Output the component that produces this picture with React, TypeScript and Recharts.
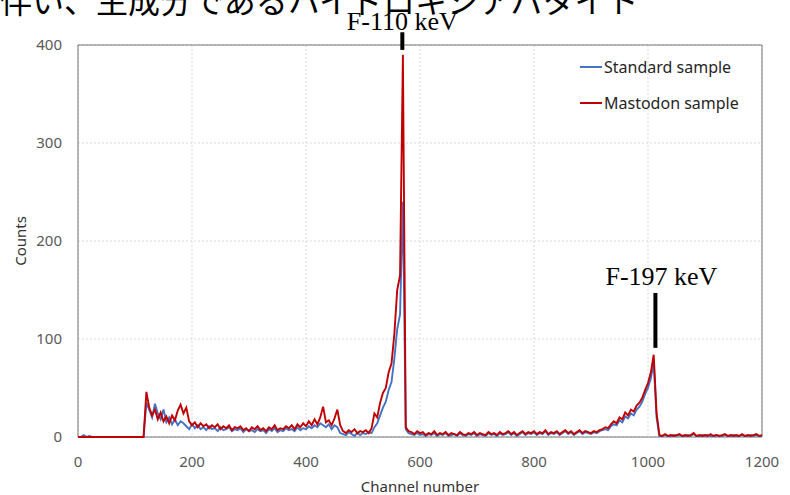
import {
  LineChart,
  Line,
  XAxis,
  YAxis,
  CartesianGrid,
  ReferenceArea,
  ReferenceLine,
} from "recharts";

// counts every 5 channels, 0..1200 (one row = 100 channels)
const CHANNEL_STEP = 5;

const standardCounts = [
  0, 0, 2, 0, 1, 0, 0, 0, 0, 0, 0, 0, 0, 0, 0, 0, 0, 0, 0, 0,
  0, 0, 0, 0, 35, 28, 20, 34, 24, 18, 28, 15, 20, 13, 18, 12, 16, 14, 11, 8,
  13, 9, 12, 8, 10, 7, 11, 8, 9, 6, 10, 7, 8, 10, 6, 8, 7, 9, 5, 8,
  6, 7, 5, 8, 6, 7, 4, 8, 6, 9, 5, 7, 6, 9, 7, 8, 6, 10, 7, 9,
  8, 11, 9, 12, 10, 14, 12, 10, 13, 8, 12, 10, 4, 3, 2, 5, 3, 1, 4, 2,
  4, 3, 5, 4, 10, 14, 22, 30, 36, 48, 56, 80, 110, 125, 240, 8, 4, 3, 2, 4,
  2, 3, 1, 3, 2, 4, 1, 3, 2, 4, 1, 2, 3, 1, 4, 2, 1, 3, 2, 4,
  1, 3, 2, 1, 4, 2, 3, 1, 4, 2, 3, 5, 2, 4, 1, 3, 5, 2, 4, 3,
  5, 2, 4, 3, 6, 2, 4, 3, 5, 2, 4, 6, 3, 5, 2, 4, 6, 3, 5, 4,
  3, 5, 4, 6, 7, 8, 7, 11, 13, 12, 17, 15, 21, 19, 24, 22, 28, 31, 36, 44,
  50, 60, 76, 20, 1, 1, 2, 1, 1, 2, 1, 2, 1, 1, 2, 1, 3, 1, 1, 2,
  1, 2, 1, 1, 2, 1, 1, 2, 1, 1, 2, 1, 1, 2, 1, 1, 2, 1, 2, 1,
  1,
];

const mastodonCounts = [
  0, 0, 0, 0, 0, 0, 0, 0, 0, 0, 0, 0, 0, 0, 0, 0, 0, 0, 0, 0,
  0, 0, 0, 0, 46, 30, 22, 28, 18, 25, 16, 21, 14, 22, 17, 27, 33, 24, 30, 16,
  12, 15, 10, 14, 11, 13, 9, 12, 10, 13, 8, 11, 9, 12, 7, 10, 9, 11, 7, 9,
  6, 10, 8, 11, 7, 9, 6, 10, 8, 12, 7, 9, 8, 11, 9, 12, 8, 13, 10, 14,
  11, 16, 12, 18, 13, 20, 31, 15, 17, 12, 19, 28, 12, 6, 4, 7, 5, 8, 4, 6,
  5, 7, 4, 9, 24, 20, 35, 45, 50, 66, 75, 105, 150, 165, 390, 10, 6, 5, 3, 6,
  4, 5, 2, 4, 3, 6, 2, 4, 3, 5, 2, 4, 3, 2, 5, 3, 2, 4, 3, 5,
  2, 4, 3, 2, 5, 3, 4, 2, 5, 3, 4, 6, 3, 5, 2, 4, 6, 3, 5, 4,
  6, 3, 5, 4, 7, 3, 5, 4, 6, 3, 5, 7, 4, 6, 3, 5, 7, 4, 6, 5,
  4, 6, 5, 7, 8, 10, 9, 13, 16, 14, 20, 18, 25, 22, 28, 26, 32, 35, 40, 48,
  55, 66, 84, 25, 2, 1, 3, 1, 2, 1, 2, 3, 1, 2, 1, 2, 4, 1, 2, 1,
  2, 1, 3, 1, 2, 1, 2, 3, 1, 2, 1, 2, 1, 3, 1, 2, 1, 2, 3, 1,
  2,
];

const xTicks = [0, 200, 400, 600, 800, 1000, 1200];
const yTicks = [0, 100, 200, 300, 400];

const seriesInfo = [
  { key: "standard", name: "Standard sample", color: "#4472C4" },
  { key: "mastodon", name: "Mastodon sample", color: "#C00000" },
];

// peak markers: channel, marker bottom/top in counts
const peaks = [
  { label: "F-110 keV", ch: 569, from: 395, to: 413, offset: 2, dx: 0 },
  { label: "F-197 keV", ch: 1013, from: 91, to: 147, offset: 8, dx: 6 },
];

const data = standardCounts.map((v, i) => ({
  ch: i * CHANNEL_STEP,
  standard: v,
  mastodon: mastodonCounts[i],
}));

const tickStyle = { fill: "#595959", fontSize: 15, fontFamily: "Noto Sans" };

function LegendBox() {
  return (
    <div
      style={{
        position: "absolute",
        top: 49,
        left: 580,
        fontFamily: "Noto Sans",
        fontSize: 16,
        color: "#262626",
      }}
    >
      {seriesInfo.map((s) => (
        <div
          key={s.key}
          style={{ display: "flex", alignItems: "center", height: 36 }}
        >
          <span
            style={{
              display: "inline-block",
              width: 22,
              height: 2,
              background: s.color,
              marginRight: 2,
            }}
          />
          {s.name}
        </div>
      ))}
    </div>
  );
}

export default function App() {
  return (
    <div
      style={{
        position: "absolute",
        top: 0,
        left: 0,
        width: 790,
        height: 495,
        background: "#fff",
        overflow: "hidden",
      }}
    >
      <div
        style={{
          position: "absolute",
          top: -17,
          left: 0,
          fontFamily: "Noto Sans CJK JP",
          fontSize: 32,
          lineHeight: 1,
          whiteSpace: "nowrap",
          color: "#000",
        }}
      >
        伴い、主成分であるハイドロキシアパタイト
      </div>
      <LineChart
        width={790}
        height={495}
        data={data}
        margin={{ top: 45, right: 28, left: 0, bottom: 0 }}
      >
        <CartesianGrid stroke="#d9d9d9" strokeDasharray="2 2" />
        <XAxis
          dataKey="ch"
          type="number"
          domain={[0, 1200]}
          ticks={xTicks}
          height={58}
          axisLine={false}
          tickLine={false}
          tickSize={0}
          tickMargin={19}
          tick={tickStyle}
        />
        <YAxis
          type="number"
          domain={[0, 400]}
          ticks={yTicks}
          width={78}
          axisLine={false}
          tickLine={false}
          tickSize={0}
          tickMargin={16}
          tick={tickStyle}
        />
        <ReferenceArea
          x1={0}
          x2={1200}
          y1={0}
          y2={400}
          fill="none"
          stroke="#767676"
          strokeWidth={1}
          ifOverflow="visible"
        />
        {seriesInfo.map((s) => (
          <Line
            key={s.key}
            dataKey={s.key}
            name={s.name}
            type="linear"
            stroke={s.color}
            strokeWidth={1.9}
            dot={false}
            isAnimationActive={false}
          />
        ))}
        {peaks.map((p) => (
          <ReferenceLine
            key={p.label}
            segment={[
              { x: p.ch, y: p.from },
              { x: p.ch, y: p.to },
            ]}
            stroke="#000"
            strokeWidth={4}
            ifOverflow="visible"
            label={{
              value: p.label,
              position: "top",
              offset: p.offset,
              dx: p.dx,
              fill: "#000",
              fontSize: 26,
              fontFamily: "Liberation Serif",
            }}
          />
        ))}
      </LineChart>
      <LegendBox />
      <div
        style={{
          position: "absolute",
          left: 78,
          width: 684,
          top: 476,
          textAlign: "center",
          fontFamily: "Noto Sans",
          fontSize: 15,
          color: "#333",
        }}
      >
        Channel number
      </div>
      <div
        style={{
          position: "absolute",
          left: 20,
          top: 241,
          transform: "translate(-50%, -50%) rotate(-90deg)",
          fontFamily: "Noto Sans",
          fontSize: 15,
          color: "#333",
          whiteSpace: "nowrap",
        }}
      >
        Counts
      </div>
    </div>
  );
}
